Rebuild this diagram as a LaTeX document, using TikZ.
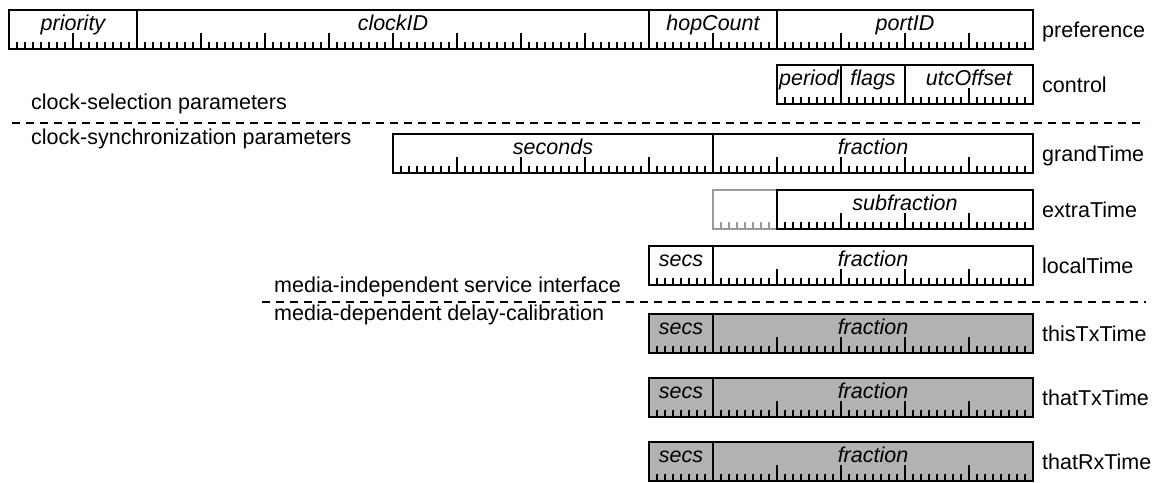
\documentclass[tikz,border=0pt]{standalone}
\usepackage{fontspec}
\setmainfont{Liberation Sans}

\definecolor{fieldgray}{gray}{0.7}
\definecolor{ghostgray}{gray}{0.6}

% bit b of the top row sits at x = 9+8b
\newcommand{\bitticks}[4]{%
  \foreach \b in {#1,...,#2}{
    \pgfmathsetmacro{\tickh}{ifthenelse(mod(\b,8)==0,16,7)}
    \draw[tick,#4] ({9+8*\b},#3+39) -- ++(0,-\tickh);
  }}
\newcommand{\field}[5]{%
  \draw[box] ({9+8*#1},#3) rectangle ({9+8*#2},#3+39);
  \node[fieldlabel] (#5) at ({9+4*(#1+#2)},#3+20) {#4};}

\begin{document}
\begin{tikzpicture}[x=1pt,y=-1pt,
    box/.style = {line width=1.8pt},
    tick/.style = {line width=1.2pt},
    shaded/.style = {fill=fieldgray},
    divider/.style = {line width=1.5pt,dash pattern=on 8pt off 6pt},
    fieldlabel/.style = {anchor=base,inner sep=0pt,font=\fontsize{21.5}{25}\selectfont\itshape},
    rowlabel/.style = {anchor=base west,inner sep=0pt,font=\fontsize{21.5}{25}\selectfont},
    sidelabel/.style = {anchor=base west,inner sep=0pt,font=\fontsize{21.5}{25}\selectfont}]
    \useasboundingbox (0,0) rectangle (1156,482);

    % preference
    \bitticks{1}{127}{10}{}
    \field{0}{16}{10}{priority}{prio}
    \field{16}{80}{10}{clockID}{clkid}
    \field{80}{96}{10}{hopCount}{hops}
    \field{96}{128}{10}{portID}{port}
    \node[rowlabel] (pref) at (1042,37) {preference};

    % control
    \bitticks{97}{127}{65}{}
    \field{96}{104}{65}{period}{period}
    \field{104}{112}{65}{flags}{flags}
    \field{112}{128}{65}{utcOffset}{utc}
    \node[rowlabel] (ctrl) at (1042,92) {control};

    \node[sidelabel] (selpar) at (31,109) {clock-selection parameters};
    \coordinate (selL) at (12,123);
    \coordinate (selR) at (1146,123);
    \draw[divider] (selL) -- (selR);
    \node[sidelabel] (syncpar) at (31,144) {clock-synchronization parameters};

    % grandTime
    \bitticks{49}{127}{134}{}
    \field{48}{88}{134}{seconds}{gsec}
    \field{88}{128}{134}{fraction}{gfrac}
    \node[rowlabel] (grand) at (1042,161) {grandTime};

    % extraTime
    \bitticks{89}{95}{190}{ghostgray}
    \draw[box,ghostgray] ({9+8*96},190) -- ({9+8*88},190) -- ({9+8*88},229) -- ({9+8*96},229);
    \bitticks{97}{127}{190}{}
    \field{96}{128}{190}{subfraction}{xfrac}
    \node[rowlabel] (extra) at (1042,217) {extraTime};

    % localTime
    \bitticks{81}{127}{246}{}
    \field{80}{88}{246}{secs}{lsec}
    \field{88}{128}{246}{fraction}{lfrac}
    \node[rowlabel] (local) at (1042,273) {localTime};

    \node[sidelabel] (mii) at (274,292) {media-independent service interface};
    \coordinate (miiL) at (262,302);
    \coordinate (miiR) at (1146,302);
    \draw[divider] (miiL) -- (miiR);
    \node[sidelabel] (mdd) at (274,320) {media-dependent delay-calibration};

    % timestamps
    \foreach \y/\nm/\txt in {314/thisTx/thisTxTime, 378/thatTx/thatTxTime, 442/thatRx/thatRxTime}{
        \fill[shaded] ({9+8*80},\y) rectangle ({9+8*128},\y+39);
        \bitticks{81}{127}{\y}{}
        \field{80}{88}{\y}{secs}{\nm sec}
        \field{88}{128}{\y}{fraction}{\nm frac}
        \node[rowlabel] (\nm) at (1042,\y+27) {\txt};
    }
\end{tikzpicture}
\end{document}
